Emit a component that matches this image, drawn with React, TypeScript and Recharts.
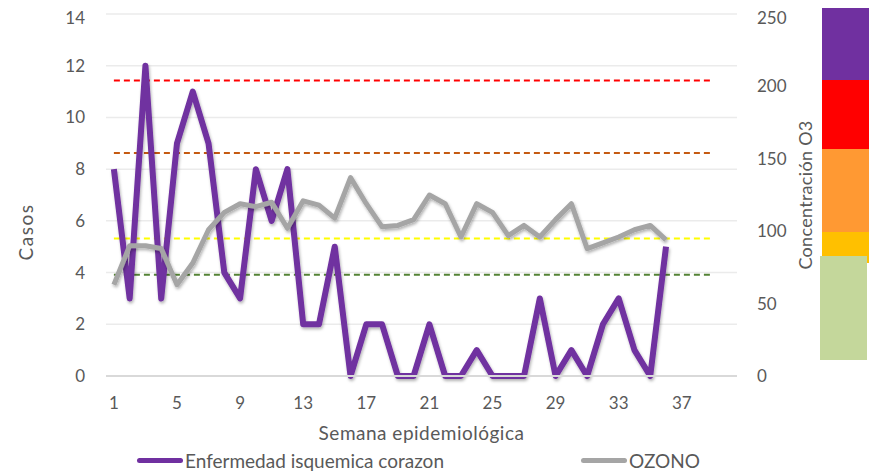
import React from 'react';
import { LineChart, Line, XAxis, YAxis, CartesianGrid, Legend, Label } from 'recharts';

const weeks = ['1','2','3','4','5','6','7','8','9','10','11','12','13','14','15','16','17','18','19','20','21','22','23','24','25','26','27','28','29','30','31','32','33','34','35','36','37','38','39','40'];
const casos = [8,3,12,3,9,11,9,4,3,8,6,8,2,2,5,0,2,2,0,0,2,0,0,1,0,0,0,3,0,1,0,2,3,1,0,5];
const ozono = [63,90,90,88,63,78,101,113,119,117,120,102,121,118,109,137,119,103,104,108,125,119,96,119,113,97,104,96,108,119,88,92,96,101,104,94];
const thresholdWeeks = 39;
const limRojo = 204;
const limNaranja = 154;
const limAmarillo = 95;
const limVerde = 70;
const leftTicks = [0,2,4,6,8,10,12,14];
const rightTicks = [0,50,100,150,200,250];

const data = weeks.map((w, i) => ({
  week: w,
  casos: i < casos.length ? casos[i] : null,
  ozono: i < ozono.length ? ozono[i] : null,
  rojo: i < thresholdWeeks ? limRojo : null,
  naranja: i < thresholdWeeks ? limNaranja : null,
  amarillo: i < thresholdWeeks ? limAmarillo : null,
  verde: i < thresholdWeeks ? limVerde : null,
}));

const FONT = 'Lato, "Open Sans", sans-serif';
const GREY = '#595959';

const bands = [
  { color: '#7030A0', left: 814, top: -8, width: 47, height: 80 },
  { color: '#FF0000', left: 814, top: 72, width: 47, height: 69 },
  { color: '#FF9933', left: 814, top: 141, width: 47, height: 83 },
  { color: '#FFC000', left: 814, top: 224, width: 47, height: 31 },
  { color: '#C4D79B', left: 812, top: 248, width: 47, height: 104 },
];

const LegendContent = (props: any) => {
  const items = (props.payload || []).filter((p: any) => p.type !== 'none');
  return (
    <div style={{ display: 'flex', alignItems: 'center', fontFamily: FONT, fontSize: 19, color: GREY }}>
      {items.map((it: any, idx: number) => (
        <div key={idx} style={{ display: 'flex', alignItems: 'center', marginRight: idx === 0 ? 137 : 0 }}>
          <div style={{ width: 46, height: 5, borderRadius: 3, background: it.color, marginRight: 2 }} />
          <span>{it.value}</span>
        </div>
      ))}
    </div>
  );
};

export default function App() {
  return (
    <div style={{ position: 'relative', width: 877, height: 468, fontFamily: FONT }}>
      <svg width={0} height={0} style={{ position: 'absolute' }}>
        <defs>
          <filter id="shadow" x="-5%" y="-5%" width="110%" height="120%">
            <feDropShadow dx="1" dy="2" stdDeviation="1.5" floodColor="#000" floodOpacity="0.3" />
          </filter>
        </defs>
      </svg>
      <LineChart width={877} height={468} data={data} margin={{ top: 6, right: 0, bottom: 0, left: 0 }}>
        <CartesianGrid yAxisId="left" vertical={false} stroke="#EBEBEB" strokeWidth={1.5} />
        <XAxis
          dataKey="week"
          scale="band"
          interval={3}
          height={100}
          tickLine={false}
          axisLine={{ stroke: '#D9D9D9', strokeWidth: 2 }}
          tickMargin={15}
          tick={{ fontSize: 17, fill: GREY, fontFamily: FONT }}
        >
          <Label value="Semana epidemiológica" position="insideTop" offset={51} style={{ fontSize: 19, letterSpacing: 0.5, fill: GREY, fontFamily: FONT }} />
        </XAxis>
        <YAxis
          yAxisId="left"
          orientation="left"
          width={98}
          domain={[0, 14]}
          ticks={leftTicks}
          tickLine={false}
          axisLine={false}
          tickMargin={15}
          tick={{ fontSize: 17, fill: GREY, fontFamily: FONT }}
        >
          <Label
            content={(p: any) => {
              const vb = p.viewBox;
              const x = vb.x + 17;
              const y = vb.y + vb.height / 2 + 37;
              return (
                <text x={x} y={y} transform={`rotate(-90 ${x} ${y})`} textAnchor="middle" dominantBaseline="central" style={{ fontSize: 19, letterSpacing: 1.5, fill: GREY, fontFamily: FONT }}>
                  Casos
                </text>
              );
            }}
          />
        </YAxis>
        <YAxis
          yAxisId="right"
          orientation="right"
          width={148}
          domain={[0, 250]}
          ticks={rightTicks}
          tickLine={false}
          axisLine={false}
          tickMargin={14}
          tick={{ fontSize: 17, fill: GREY, fontFamily: FONT }}
        >
          <Label
            content={(p: any) => {
              const vb = p.viewBox;
              const x = vb.x + 68;
              const y = vb.y + vb.height / 2;
              return (
                <text x={x} y={y} transform={`rotate(-90 ${x} ${y})`} textAnchor="middle" dominantBaseline="central" style={{ fontSize: 18, letterSpacing: 0.3, fill: GREY, fontFamily: FONT }}>
                  Concentración O3
                </text>
              );
            }}
          />
        </YAxis>
        <Line yAxisId="right" dataKey="rojo" stroke="#FF0000" strokeWidth={2} strokeDasharray="6 4" dot={false} legendType="none" isAnimationActive={false} />
        <Line yAxisId="right" dataKey="naranja" stroke="#C55A11" strokeWidth={2} strokeDasharray="6 4" dot={false} legendType="none" isAnimationActive={false} />
        <Line yAxisId="right" dataKey="amarillo" stroke="#FFFF00" strokeWidth={2} strokeDasharray="6 4" dot={false} legendType="none" isAnimationActive={false} />
        <Line yAxisId="right" dataKey="verde" stroke="#548235" strokeWidth={2} strokeDasharray="6 4" dot={false} legendType="none" isAnimationActive={false} />
        <Line yAxisId="left" dataKey="casos" name="Enfermedad isquemica corazon" stroke="#7030A0" strokeWidth={6} strokeLinejoin="round" dot={false} filter="url(#shadow)" isAnimationActive={false} />
        <Line yAxisId="right" dataKey="ozono" name="OZONO" stroke="#A5A5A5" strokeWidth={5} strokeLinejoin="round" dot={false} filter="url(#shadow)" isAnimationActive={false} />
        <Legend
          layout="horizontal"
          verticalAlign="middle"
          align="center"
          content={<LegendContent />}
          wrapperStyle={{ left: 129, top: 441, width: 720, height: 24 }}
        />
      </LineChart>
      {bands.map((b, i) => (
        <div key={i} style={{ position: 'absolute', left: b.left, top: b.top, width: b.width, height: b.height, background: b.color }} />
      ))}
    </div>
  );
}
